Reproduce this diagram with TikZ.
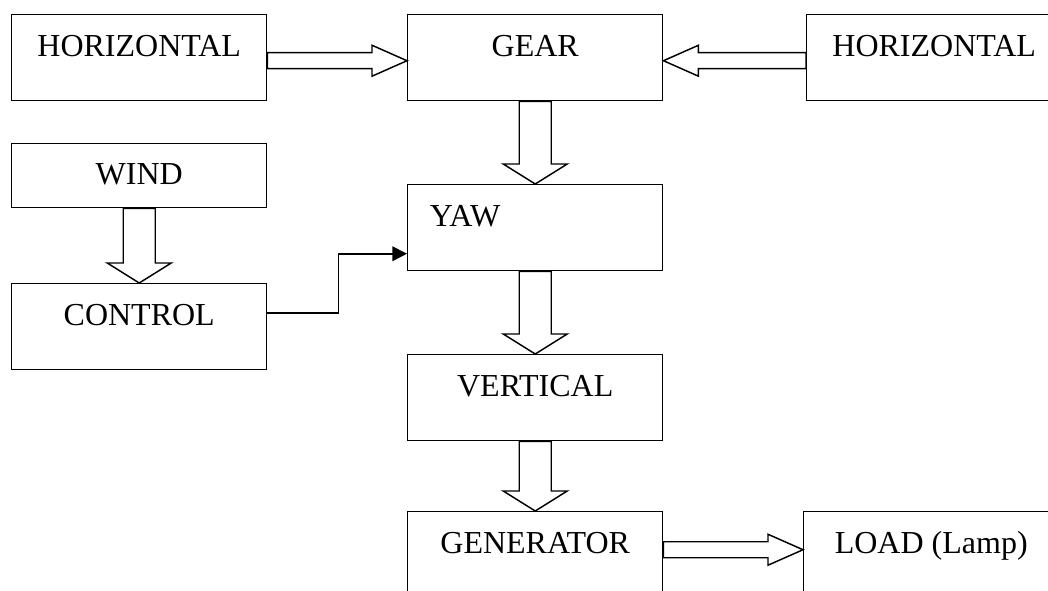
\documentclass[tikz,border=0pt]{standalone}
\usepackage{fontspec}
\setmainfont{Liberation Serif}
\usetikzlibrary{arrows.meta,calc}
\tikzset{
    blk/.style={rectangle,draw,line width=1.1pt,anchor=north west,
                minimum width=191.25pt,minimum height=64.5pt,
                text height=16pt,text depth=18pt,inner sep=0pt,
                font=\fontsize{24}{28}\selectfont},
    lowblk/.style={blk,minimum height=48pt,text depth=3pt},
    leftblk/.style={blk,align=left,text width=158pt,inner xsep=16.5pt},
    fat/.style={draw,line width=1.1pt,line join=miter},
    link/.style={-{Triangle[length=11pt,width=11pt]},line width=1.2pt},
}
% hollow block arrows: from node, to node, shift of the tip (px)
\newcommand{\fatright}[3]{%
  \draw[fat] let \p1=(#1.east), \p2=($(#2.west)+(0,#3)$) in
    (\x1,\y2-6pt) -- (\x2-26.25pt,\y2-6pt) -- (\x2-26.25pt,\y2-11.6pt)
    -- (\x2,\y2) -- (\x2-26.25pt,\y2+11.6pt) -- (\x2-26.25pt,\y2+6pt)
    -- (\x1,\y2+6pt) -- cycle;}
\newcommand{\fatleft}[3]{%
  \draw[fat] let \p1=(#1.west), \p2=($(#2.east)+(0,#3)$) in
    (\x1,\y2-6pt) -- (\x2+26.25pt,\y2-6pt) -- (\x2+26.25pt,\y2-11.6pt)
    -- (\x2,\y2) -- (\x2+26.25pt,\y2+11.6pt) -- (\x2+26.25pt,\y2+6pt)
    -- (\x1,\y2+6pt) -- cycle;}
\newcommand{\fatdown}[2]{%
  \draw[fat] let \p1=(#1.south), \p2=(#2.north) in
    (\x2-12pt,\y1) -- (\x2-12pt,\y2+15pt) -- (\x2-24pt,\y2+15pt)
    -- (\x2,\y2) -- (\x2+24pt,\y2+15pt) -- (\x2+12pt,\y2+15pt)
    -- (\x2+12pt,\y1) -- cycle;}

\begin{document}
\begin{tikzpicture}[x=0.75pt,y=-0.75pt]
\clip (0,0) rectangle (1048,591);

\node[blk] (hl)   at (11,14)   {HORIZONTAL};
\node[blk] (gear) at (407,14)  {GEAR};
\node[blk] (hr)   at (806,14)  {HORIZONTAL};
\node[lowblk] (wind) at (11,143) {WIND};
\node[blk] (ctrl) at (11,283)  {CONTROL};
\node[leftblk] (yaw) at (407,184) {YAW};
\node[blk] (vert) at (407,354) {VERTICAL};
\node[blk] (gen)  at (407,511) {GENERATOR};
\node[blk] (load) at (803,511) {LOAD (Lamp)};

\fatright{hl}{gear}{3}
\fatleft{hr}{gear}{3}
\fatdown{gear}{yaw}
\fatdown{wind}{ctrl}
\fatdown{yaw}{vert}
\fatdown{vert}{gen}
\fatright{gen}{load}{-5}

\draw[link] ($(ctrl.east)+(0,-14)$) -- ++(71,0) |- ($(yaw.west)+(0,26)$);
\end{tikzpicture}
\end{document}
